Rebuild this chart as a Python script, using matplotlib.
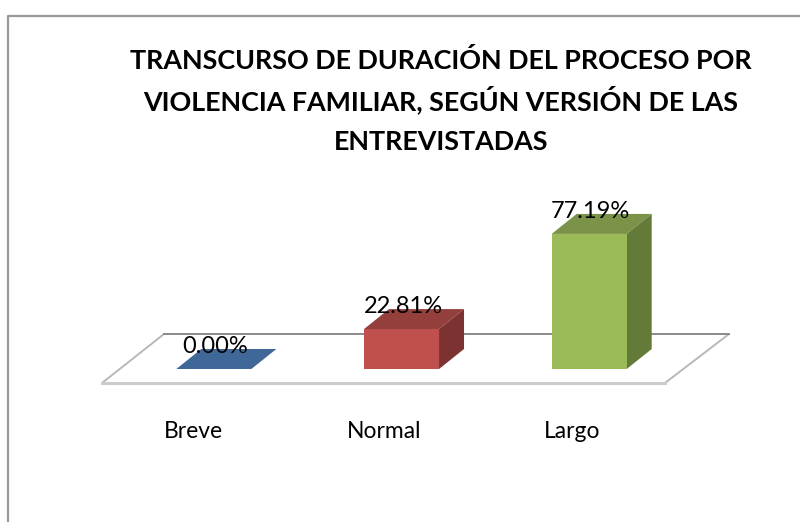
import matplotlib
matplotlib.use("Agg")
import matplotlib.pyplot as plt
from matplotlib.patches import Polygon, Rectangle

categorias = ["Breve", "Normal", "Largo"]
valores = [0.00, 22.81, 77.19]
etiquetas = ["0.00%", "22.81%", "77.19%"]
titulo = ["TRANSCURSO DE DURACIÓN DEL PROCESO POR",
          "VIOLENCIA FAMILIAR, SEGÚN VERSIÓN DE LAS",
          "ENTREVISTADAS"]

frente = ["#3f6797", "#c0504d", "#9bbb59"]
tapa = ["#3f6797", "#93403d", "#7b9348"]
lado = ["#3f6797", "#7c3230", "#647a38"]

W, H = 800, 522
plt.rcParams["font.family"] = ["Lato", "DejaVu Sans"]

fig = plt.figure(figsize=(W / 100, H / 100), dpi=100, facecolor="white")

# marco del grafico: solo arriba e izquierda, el resto queda cortado
fondo = fig.add_axes([0, 0, 1, 1])
fondo.set_xlim(0, W)
fondo.set_ylim(H, 0)
fondo.axis("off")
fondo.plot([7.5, 7.5, W], [H, 15.5, 15.5], color="#999999", lw=1.6)

# ejes: x = categoria, y = porcentaje, con la base de las barras en y=369 px
ax = fig.add_axes([120 / W, (H - 369) / H, 563 / W, 175 / H])
ax.set_xlim(-0.5, 2.5)
ax.set_ylim(0, 100)
ax.axis("off")

ancho = 0.4
dx = 25 / 187.7
dy = 20 / 1.75
desp_cat = [-0.11, -0.09, -0.09]

# piso en perspectiva
piso_x = [-0.5 - 18 / 187.7, 2.5 - 18 / 187.7, 2.5 + 46 / 187.7, -0.5 + 44 / 187.7]
piso_y = [-8, -8, 20, 20]
ax.add_patch(Polygon(list(zip(piso_x, piso_y)), closed=True, fc="white", ec="#b8b8b8", lw=1.4,
                     clip_on=False, zorder=1))
ax.plot(piso_x[:2], piso_y[:2], color="#cccccc", lw=2.2, clip_on=False, zorder=2)
ax.plot(piso_x[2:], piso_y[2:], color="#8c8c8c", lw=1.4, clip_on=False, zorder=2)

for i, v in enumerate(valores):
    x0 = i - ancho / 2
    x1 = i + ancho / 2
    ax.add_patch(Polygon([(x0, v), (x1, v), (x1 + dx, v + dy), (x0 + dx, v + dy)], closed=True,
                         fc=tapa[i], ec="none", clip_on=False, zorder=3))
    if v > 0:
        ax.add_patch(Polygon([(x1, 0), (x1 + dx, dy), (x1 + dx, v + dy), (x1, v)], closed=True,
                             fc=lado[i], ec="none", clip_on=False, zorder=3))
        ax.add_patch(Rectangle((x0, 0), ancho, v, fc=frente[i], ec="none", clip_on=False, zorder=4))
    ax.text(i + 0.008, v + dy + 1.5, etiquetas[i], ha="center", va="center", fontsize=17, color="black",
            clip_on=False, zorder=5)
    ax.text(i + desp_cat[i], -36, categorias[i], ha="center", va="center", fontsize=16.5, color="black",
            clip_on=False, zorder=5)

for linea, y in zip(titulo, [69, 110, 150]):
    fig.text(441 / W, 1 - y / H, linea, ha="center", va="baseline", fontsize=19.4, fontweight="bold",
             color="black")

fig.savefig("out.png", dpi=100)
